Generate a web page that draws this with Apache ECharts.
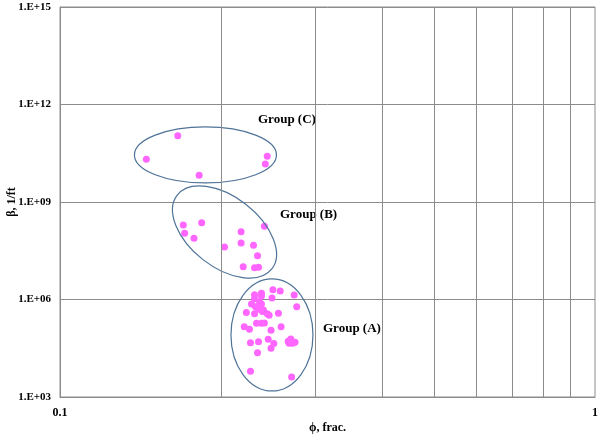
<!DOCTYPE html>
<html>
<head>
<meta charset="utf-8">
<script src="https://cdn.jsdelivr.net/npm/echarts@6/dist/echarts.min.js"></script>
<style>
  html, body { margin: 0; padding: 0; background: #fff; }
  #chart { width: 600px; height: 438px; }
</style>
</head>
<body>
<div id="chart"></div>
<script>
// porosity (frac.) / beta (1/ft)
const groupC = [
  [0.166, 1.1e11], [0.145, 2.06e10], [0.182, 6.6e9], [0.244, 2.55e10], [0.242, 1.48e10]
]
const groupB = [
  [0.170, 1.96e8], [0.184, 2.31e8], [0.171, 1.09e8], [0.178, 7.6e7], [0.218, 1.22e8],
  [0.241, 1.79e8], [0.218, 5.5e7], [0.230, 4.7e7], [0.203, 4.1e7], [0.234, 2.2e7],
  [0.220, 1.02e7], [0.231, 9.5e6], [0.235, 9.8e6]
]
const groupA = [
  [0.231, 1.41e6], [0.238, 1.55e6], [0.250, 2.0e6], [0.258, 1.83e6], [0.274, 1.37e6],
  [0.249, 1.11e6], [0.231, 1.06e6], [0.236, 8.6e5], [0.228, 7.3e5], [0.238, 7.3e5],
  [0.232, 6.0e5], [0.277, 6.0e5], [0.235, 5.0e5], [0.223, 4.0e5], [0.231, 3.66e5],
  [0.239, 4.3e5], [0.244, 3.66e5], [0.256, 3.8e5], [0.246, 3.27e5], [0.233, 1.85e5],
  [0.238, 1.85e5], [0.241, 1.9e5], [0.221, 1.46e5], [0.226, 1.21e5], [0.248, 1.13e5],
  [0.259, 1.46e5], [0.227, 4.7e4], [0.235, 5.0e4], [0.245, 6.0e4], [0.251, 4.4e4],
  [0.248, 3.15e4], [0.267, 5.2e4], [0.270, 6.1e4], [0.272, 4.5e4], [0.275, 4.8e4],
  [0.268, 4.5e4], [0.234, 2.3e4], [0.227, 6.2e3], [0.271, 4.1e3], [0.238, 1.28e6],
  [0.236, 6.3e5], [0.240, 4.75e5]
]
const xGridValues = [0.2, 0.3, 0.4, 0.5, 0.6, 0.7, 0.8, 0.9]

// group outlines: centre in data units, radii (px), tilt (deg)
const outlines = [
  [0.187, 2.8e10, 71, 28, 0],
  [0.203, 1.19e8, 60, 35, 38],
  [0.249, 8.1e4, 41, 56, 0]
]

const font = 'Liberation Serif'
const grey = '#8c8c8c'
const pink = '#ff66ff'

let chart = echarts.init(document.getElementById('chart'))

function expLabel(v) {
  let e = Math.round(Math.log10(v))
  return '1.E+' + (e < 10 ? '0' + e : e)
}

function scatter(data) {
  return {
    type: 'scatter',
    data: data,
    symbolSize: 7,
    itemStyle: { color: pink, opacity: 1 },
    z: 3,
    silent: true
  }
}

let option = {
  animation: false,
  grid: {
    left: 60, right: 5, top: 7, bottom: 41,
    containLabel: false,
    outerBoundsMode: 'none',
    show: true, borderColor: grey, borderWidth: 1
  },
  xAxis: {
    type: 'log',
    logBase: 10,
    min: 0.1,
    max: 1,
    name: 'ϕ, frac.',
    nameLocation: 'middle',
    nameGap: 25,
    nameMoveOverlap: false,
    nameTextStyle: { fontFamily: font, fontWeight: 'bold', fontSize: 12, color: '#000' },
    axisLine: { lineStyle: { color: grey } },
    axisTick: { show: false },
    splitLine: { show: false },
    axisLabel: {
      margin: 10,
      fontFamily: font, fontWeight: 'bold', fontSize: 12, color: '#000',
      formatter: function (v) { return v < 0.5 ? '0.1' : '1' }
    }
  },
  yAxis: {
    type: 'log',
    logBase: 1000,
    min: 1e3,
    max: 1e15,
    name: 'β, 1/ft',
    nameLocation: 'middle',
    nameGap: 42,
    nameMoveOverlap: false,
    nameTextStyle: { fontFamily: font, fontWeight: 'bold', fontSize: 12, color: '#000' },
    axisLine: { lineStyle: { color: grey } },
    axisTick: { show: false },
    splitLine: { lineStyle: { color: grey, width: 1 } },
    axisLabel: {
      margin: 9,
      fontFamily: font, fontWeight: 'bold', fontSize: 11, color: '#000',
      formatter: expLabel
    }
  },
  series: [
    {
      type: 'scatter',
      data: [],
      silent: true,
      markLine: {
        silent: true,
        symbol: ['none', 'none'],
        label: { show: false },
        lineStyle: { color: grey, type: 'solid', width: 1 },
        emphasis: { disabled: true },
        data: xGridValues.map(v => ({ xAxis: v }))
      }
    },
    {
      type: 'custom',
      silent: true,
      z: 4,
      data: outlines,
      renderItem: function (params, api) {
        let c = api.coord([api.value(0), api.value(1)])
        let a = api.value(2), b = api.value(3), t = api.value(4)
        let r = t * Math.PI / 180
        let x1 = c[0] + a * Math.cos(r), y1 = c[1] + a * Math.sin(r)
        let x2 = c[0] - a * Math.cos(r), y2 = c[1] - a * Math.sin(r)
        let d = 'M' + x1 + ' ' + y1 +
          ' A' + a + ' ' + b + ' ' + t + ' 1 1 ' + x2 + ' ' + y2 +
          ' A' + a + ' ' + b + ' ' + t + ' 1 1 ' + x1 + ' ' + y1 + ' Z'
        return {
          type: 'path',
          shape: { pathData: d },
          style: { fill: 'none', stroke: '#4f7398', lineWidth: 1.2 }
        }
      }
    },
    scatter(groupC),
    scatter(groupB),
    scatter(groupA)
  ],
  graphic: [
    { type: 'text', left: 258, top: 113, style: { text: 'Group (C)', font: 'bold 13px "Liberation Serif"', fill: '#000' } },
    { type: 'text', left: 280, top: 208, style: { text: 'Group (B)', font: 'bold 13px "Liberation Serif"', fill: '#000' } },
    { type: 'text', left: 323, top: 322, style: { text: 'Group (A)', font: 'bold 13px "Liberation Serif"', fill: '#000' } }
  ]
}

chart.setOption(option)
</script>
</body>
</html>
